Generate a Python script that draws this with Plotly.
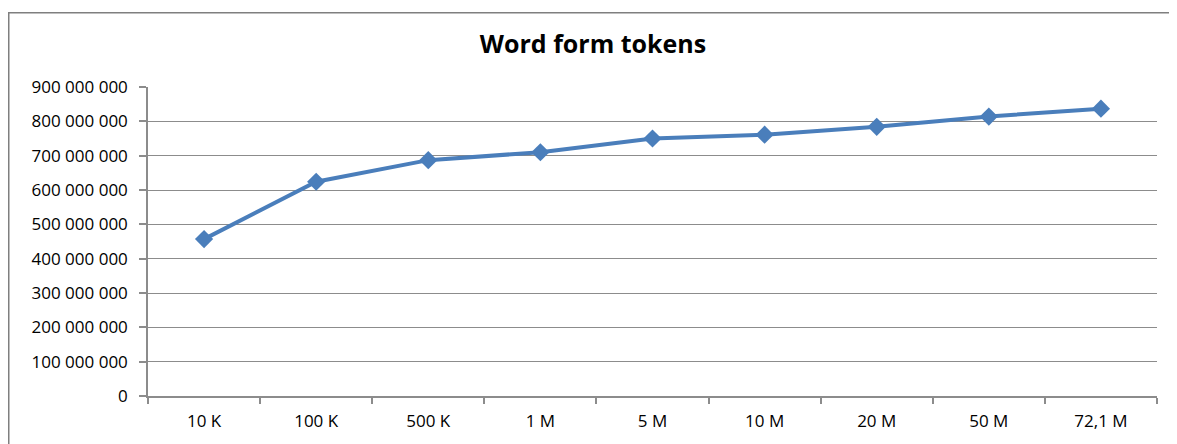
import plotly.graph_objects as go

categories = ["10 K", "100 K", "500 K", "1 M", "5 M", "10 M", "20 M", "50 M", "72,1 M"]
tokens = [457e6, 624e6, 687e6, 710e6, 750e6, 761e6, 784e6, 814e6, 837e6]
y_ticks = [0, 100e6, 200e6, 300e6, 400e6, 500e6, 600e6, 700e6, 800e6, 900e6]
title_text = "Word form tokens"

# page body has an 8px margin, so the figure starts at (8, 8) on screen
OFF = 8
W, H = 1177 - OFF, 444 - OFF
L, R, T, B = 148 - OFF, 1157 - OFF, 87 - OFF, 399 - OFF

FONT = "'Open Sans', Lato, sans-serif"
BLUE = "#4A7EBB"
GRID = "#8c8c8c"

fig = go.Figure()
fig.add_trace(go.Scatter(
    x=categories, y=tokens, mode="lines+markers",
    line=dict(color=BLUE, width=4),
    marker=dict(symbol="diamond", size=14, color=BLUE),
    showlegend=False, hoverinfo="x+y",
))

def px_x(p):
    return (p - L) / (R - L)

def px_y(p):
    return (B - p) / (B - T)

fig.update_layout(
    width=W, height=H,
    margin=dict(l=L, r=W - R, t=T, b=H - B),
    paper_bgcolor="white", plot_bgcolor="white",
    separators=", ",
    title=dict(text="<b>" + title_text + "</b>", x=(593 - OFF) / W, xanchor="center",
               y=1 - (44 - OFF) / H, yanchor="middle",
               font=dict(family=FONT, size=25, color="black")),
    font=dict(family=FONT, color="black"),
    xaxis=dict(
        type="category", range=[-0.5, len(categories) - 0.5],
        showline=True, linecolor=GRID, linewidth=1.5,
        ticks="outside", tickson="boundaries", ticklen=6, tickcolor=GRID, tickwidth=1.5,
        showgrid=False, tickfont=dict(size=17, family=FONT, color="black"),
        ticklabelstandoff=9,
    ),
    yaxis=dict(
        range=[0, 900e6], tickvals=y_ticks, tickformat=",d",
        showline=True, linecolor=GRID, linewidth=1.5,
        ticks="outside", ticklen=7, tickcolor=GRID, tickwidth=1.5,
        showgrid=True, gridcolor=GRID, gridwidth=1.2,
        zeroline=False, tickfont=dict(size=17, family=FONT, color="black"),
        ticklabelstandoff=8,
    ),
    shapes=[
        dict(type="line", xref="paper", yref="paper", x0=px_x(0), x1=px_x(W + 10),
             y0=px_y(4), y1=px_y(4), line=dict(color="#7f7f7f", width=1.5)),
        dict(type="line", xref="paper", yref="paper", x0=px_x(0.75), x1=px_x(0.75),
             y0=px_y(4), y1=px_y(H + 10), line=dict(color="#7f7f7f", width=1.5)),
    ],
)

fig.write_html("out.html")
